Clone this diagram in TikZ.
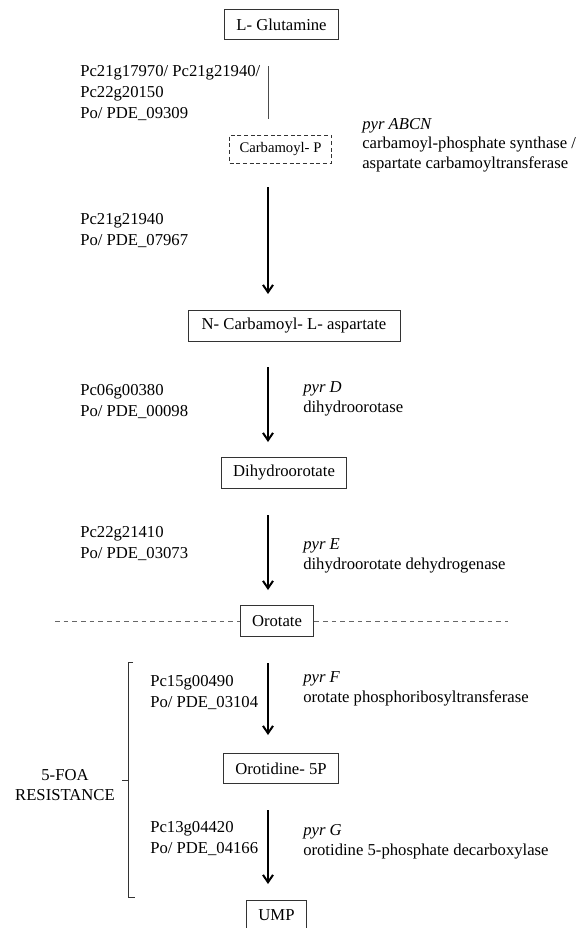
\documentclass[tikz,border=0pt]{standalone}
\usepackage{fontspec}
\setmainfont{Liberation Serif}
\usetikzlibrary{arrows.meta}
\begin{document}
\begin{tikzpicture}[x=0.75pt, y=-0.75pt,
  block/.style={draw=black!80, line width=0.75pt, inner xsep=9pt, minimum height=23pt, font=\fontsize{12.5}{15}\selectfont},
  dblock/.style={block, dash pattern=on 3pt off 2pt, inner xsep=7.5pt, minimum height=21pt, font=\fontsize{11}{13}\selectfont},
  gene/.style={anchor=base west, align=left, inner sep=0pt, font=\fontsize{12.5}{15.5}\selectfont},
  enz/.style={gene, font=\fontsize{12.5}{14.5}\selectfont},
  rxn/.style={-{Straight Barb[length=5.5pt,width=7.5pt]}, line width=1.5pt},
  sep/.style={draw=black!60, line width=0.6pt, dash pattern=on 3.5pt off 3pt}]

  \useasboundingbox (0,0) rectangle (585,928);

  % Compounds
  \node[block] (glut) at (281.5,24.5) {L- Glutamine};
  \node[dblock] (carbp) at (280.5,149) {Carbamoyl- P};
  \node[block, minimum width=159pt] (ncarb) at (294,326) {N- Carbamoyl- L- aspartate};
  \node[block] (dho) at (284,473) {Dihydroorotate};
  \node[block] (oro) at (277,621) {Orotate};
  \node[block] (omp) at (281,768.5) {Orotidine- 5P};
  \node[block] (ump) at (276.5,915.5) {UMP};

  % Arrow ends
  \coordinate (s1a) at (268,66);  \coordinate (s1b) at (268,119);
  \coordinate (s2a) at (268,187); \coordinate (s2b) at (268,294);
  \coordinate (s3a) at (268,367); \coordinate (s3b) at (268,442);
  \coordinate (s4a) at (268,515); \coordinate (s4b) at (268,590);
  \coordinate (s5a) at (268,663); \coordinate (s5b) at (268,735);
  \coordinate (s6a) at (268,810); \coordinate (s6b) at (268,884);

  % Reactions
  \draw[draw=black!70, line width=0.75pt] (s1a) -- (s1b);
  \draw[rxn] (s2a) -- (s2b);
  \draw[rxn] (s3a) -- (s3b);
  \draw[rxn] (s4a) -- (s4b);
  \draw[rxn] (s5a) -- (s5b);
  \draw[rxn] (s6a) -- (s6b);

  % Genes (anchored at last line)
  \node[gene] (g1) at (80,118) {Pc21g17970/ Pc21g21940/\\Pc22g20150\\Po/ PDE\_09309};
  \node[gene] (g2) at (80,245) {Pc21g21940\\Po/ PDE\_07967};
  \node[gene] (g3) at (80,416) {Pc06g00380\\Po/ PDE\_00098};
  \node[gene] (g4) at (80,558) {Pc22g21410\\Po/ PDE\_03073};
  \node[gene] (g5) at (150,707) {Pc15g00490\\Po/ PDE\_03104};
  \node[gene] (g6) at (150,853) {Pc13g04420\\Po/ PDE\_04166};

  % Enzymes
  \node[enz] (e1) at (362,168) {\textit{pyr ABCN}\\carbamoyl-phosphate synthase /\\aspartate carbamoyltransferase};
  \node[enz] (e3) at (303,412) {\textit{pyr D}\\dihydroorotase};
  \node[enz] (e4) at (303,569) {\textit{pyr E}\\dihydroorotate dehydrogenase};
  \node[enz] (e5) at (303,702) {\textit{pyr F}\\orotate phosphoribosyltransferase};
  \node[enz] (e6) at (303,855) {\textit{pyr G}\\orotidine 5-phosphate decarboxylase};

  % Separator
  \coordinate (sepl) at (55,621);
  \coordinate (sepr) at (508,621);
  \draw[sep] (sepl) -- (oro.west);
  \draw[sep] (oro.east) -- (sepr);

  % Bracket
  \draw[draw=black!80, line width=0.75pt] (133,662) -- (128,662) -- (128,897) -- (135,897);
  \draw[draw=black!80, line width=0.75pt] (128,780) -- (122,780);
  \node[anchor=base, align=center, inner sep=0pt, font=\fontsize{12.5}{15}\selectfont] (foa) at (65,800) {5-FOA\\RESISTANCE};

\end{tikzpicture}
\end{document}
